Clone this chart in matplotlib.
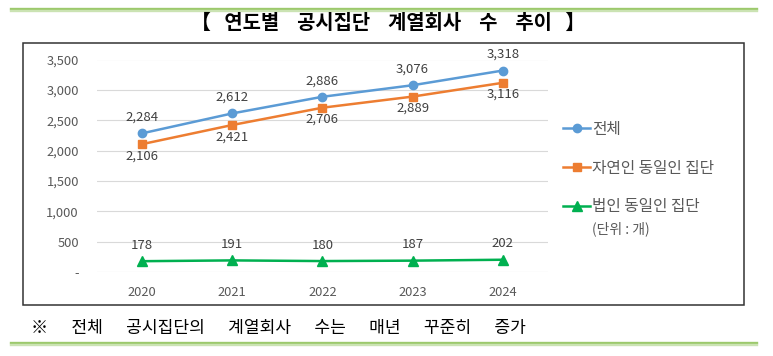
import matplotlib
matplotlib.use("Agg")
import matplotlib.pyplot as plt
from matplotlib.patches import Rectangle
from matplotlib.lines import Line2D
from matplotlib.ticker import FuncFormatter

plt.rcParams['font.family'] = ['Noto Sans CJK KR', 'DejaVu Sans']

years = ['2020', '2021', '2022', '2023', '2024']
total = [2284, 2612, 2886, 3076, 3318]
natural = [2106, 2421, 2706, 2889, 3116]
corporate = [178, 191, 180, 187, 202]
series_names = ['전체', '자연인 동일인 집단', '법인 동일인 집단']
unit_text = '(단위 : 개)'
title_text = '【   연도별    공시집단    계열회사    수    추이   】'
caption_text = '※      전체      공시집단의      계열회사      수는      매년      꾸준히      증가'

W, H = 773, 356
fig = plt.figure(figsize=(W / 100, H / 100), dpi=100)

def fx(px):
    return px / W

def fy(py):
    return 1 - py / H

ax = fig.add_axes([fx(97), fy(272), fx(547.8) - fx(97), fy(59.5) - fy(272)])
x = list(range(len(years)))

blue, orange, green = '#5B9BD5', '#ED7D31', '#00B050'
l1, = ax.plot(x, total, color=blue, lw=1.8, marker='o', ms=6, label=series_names[0])
l2, = ax.plot(x, natural, color=orange, lw=1.8, marker='s', ms=6, label=series_names[1])
l3, = ax.plot(x, corporate, color=green, lw=1.8, marker='^', ms=6.5, label=series_names[2])

lab_kw = dict(textcoords='offset points', ha='center', va='center', fontsize=9.5, color='#404040')
for xi, v in zip(x, total):
    ax.annotate(f'{v:,}', (xi, v), xytext=(0, 11.5), **lab_kw)
for xi, v in zip(x, natural):
    ax.annotate(f'{v:,}', (xi, v), xytext=(0, -8.5), **lab_kw)
for xi, v in zip(x, corporate):
    ax.annotate(f'{v:,}', (xi, v), xytext=(0, 11.5), **lab_kw)

ax.set_xlim(-0.5, len(years) - 0.5)
ax.set_ylim(0, 3500)
ax.set_yticks(range(0, 3501, 500))
ax.yaxis.set_major_formatter(FuncFormatter(lambda v, p: '-' if v == 0 else f'{int(v):,}'))
ax.set_xticks(x)
ax.set_xticklabels(years)
ax.tick_params(axis='y', length=0, pad=13, labelsize=9.3, labelcolor='#595959')
ax.tick_params(axis='x', length=0, pad=10, labelsize=9.3, labelcolor='#595959')
ax.grid(axis='y', color='#d9d9d9', lw=0.8)
ax.set_axisbelow(True)
for s in ax.spines.values():
    s.set_visible(False)

leg = fig.legend(handles=[l1, l2, l3], loc='center left', bbox_to_anchor=(fx(563), fy(168)),
                 frameon=False, fontsize=11.3, labelspacing=1.4, handlelength=1.75,
                 handletextpad=0.12, borderpad=0, borderaxespad=0)
for t in leg.get_texts():
    t.set_color('#595959')
fig.text(fx(592), fy(229), unit_text, fontsize=10, color='#595959', ha='left', va='center')

# frame box
fig.add_artist(Rectangle((fx(23), fy(305)), fx(744) - fx(23), fy(43) - fy(305),
                         transform=fig.transFigure, fill=False, edgecolor='#333333', lw=1.1))

# green rules
for yy, c in [(9, '#9CC96C'), (11.3, '#CBE3B3'), (342.5, '#9CC96C'), (344.8, '#CBE3B3')]:
    fig.add_artist(Line2D([fx(11), fx(757)], [fy(yy), fy(yy)], transform=fig.transFigure,
                          color=c, lw=1.7))

fig.text(fx(388), fy(22), title_text, fontsize=14.3, fontweight='bold', ha='center', va='center', color='black')
fig.text(fx(31), fy(328), caption_text, fontsize=12.3, ha='left', va='center', color='black')

fig.savefig('out.png', dpi=100)
